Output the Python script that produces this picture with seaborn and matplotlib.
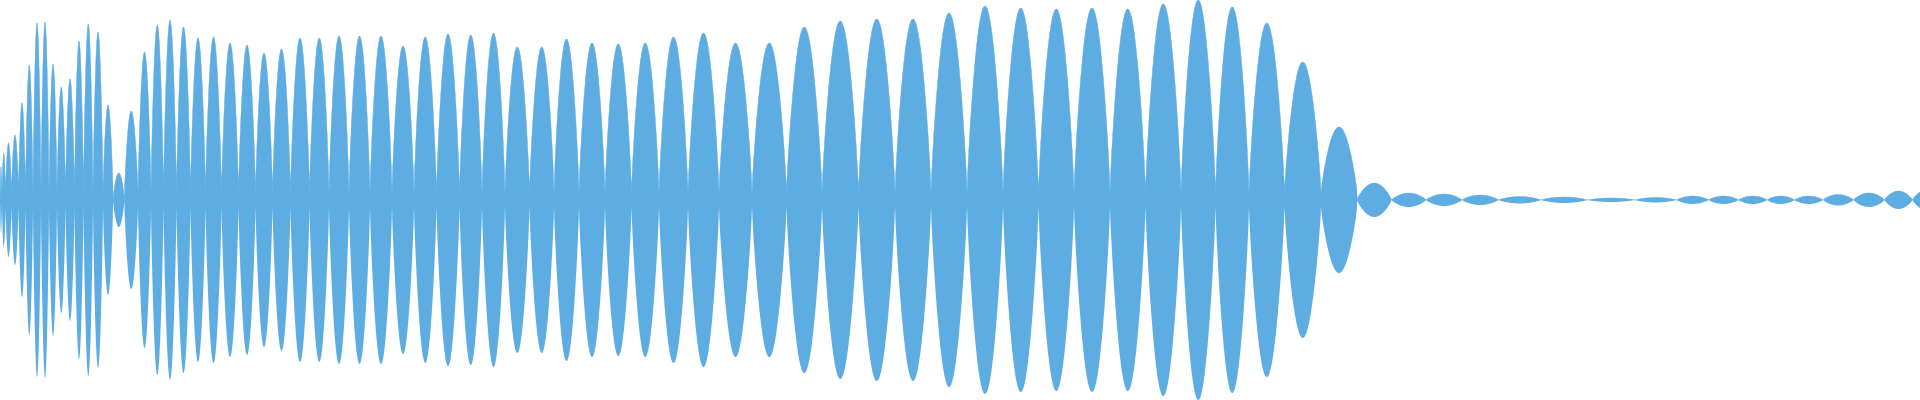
import numpy as np
import pandas as pd
import matplotlib
matplotlib.use("Agg")
import matplotlib.pyplot as plt
import seaborn as sns

# Peak positions (sample index) and peak amplitudes of each lobe of the waveform envelope
peak_pos = [1, 3, 8, 15, 22, 29, 37, 45, 53, 61, 70, 79, 88, 98, 108, 118, 131, 145, 157, 170,
            183, 198, 213, 230, 247, 264, 281, 300, 319, 339, 359, 381, 403, 425, 448, 471, 493,
            517, 542, 566, 592, 618, 645, 673, 703, 735, 769, 804, 840, 877, 913, 949, 985, 1021,
            1056, 1092, 1128, 1163, 1199, 1232, 1266, 1303, 1339, 1375, 1408, 1444, 1480, 1517,
            1565, 1610, 1660, 1693, 1724, 1753, 1781, 1808, 1838, 1869, 1900, 1925]
peak_amp = [33, 47, 57, 65, 97, 135, 177, 178, 136, 113, 121, 159, 176, 168, 95, 27, 89, 148, 175, 180,
            173, 162, 163, 157, 155, 147, 151, 162, 162, 164, 164, 164, 154, 163, 166, 165, 167,
            153, 153, 161, 157, 156, 157, 163, 167, 157, 157, 173, 179, 181, 181, 187, 194, 192,
            191, 192, 191, 196, 200, 193, 177, 138, 73, 17, 7, 6, 5, 3.5,
            3, 2, 2.5, 4, 4, 4, 4, 4, 5.5, 7, 9, 10]

pos = np.array(peak_pos, float)
amp = np.array(peak_amp, float)
bounds = np.concatenate([[pos[0] - 1], (pos[:-1] + pos[1:]) / 2, [pos[-1] + 15]])

xs, hs = [], []
for i in range(len(pos)):
    x = np.linspace(bounds[i], bounds[i + 1], 80)
    u = (x - bounds[i]) / (bounds[i + 1] - bounds[i])
    floor = 7.0 if amp[i] > 40 else 0.0
    h = floor + (amp[i] - floor) * np.sin(np.pi * u) ** 0.8
    xs.append(x); hs.append(h)
x = np.concatenate(xs); h = np.concatenate(hs)
df = pd.DataFrame({"x": x, "h": h})

sns.set_theme(style="white")
color = "#5DADE2"
fig = plt.figure(figsize=(19.2, 4), dpi=100)
ax = fig.add_axes([0, 0, 1, 1])
sns.lineplot(data=df, x="x", y="h", ax=ax, color=color, linewidth=0.3)
ax.fill_between(df["x"], -df["h"], df["h"], color=color, linewidth=0)
ax.set_xlim(0, 1920)
ax.set_ylim(-200, 200)
ax.axis("off")
fig.savefig("out.png", dpi=100, facecolor="white")
